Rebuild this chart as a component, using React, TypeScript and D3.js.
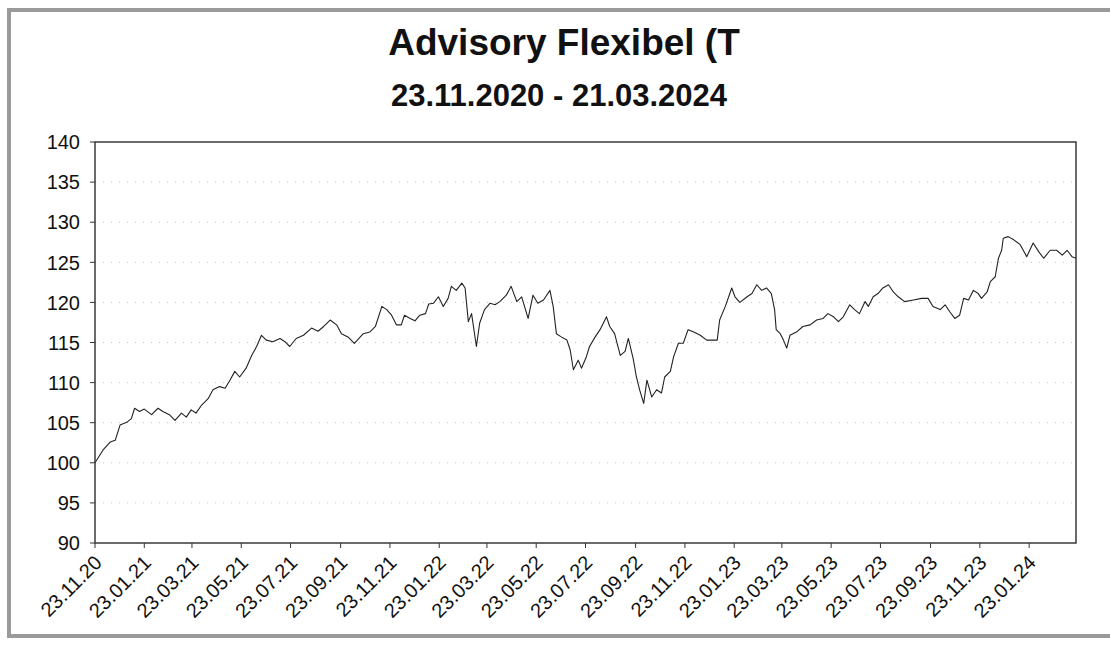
import { useMemo } from "react";
import * as d3 from "d3";

const WIDTH = 1110;
const HEIGHT = 647;
const PLOT = { left: 95, right: 1076, top: 142, bottom: 543 };
const FONT = "Arial, 'Liberation Sans', sans-serif";

const TITLE = "Advisory Flexibel (T";
const SUBTITLE = "23.11.2020 - 21.03.2024";

const START_DATE = "2020-11-23";
const END_DATE = "2024-03-21";

const Y_TICKS = [90, 95, 100, 105, 110, 115, 120, 125, 130, 135, 140];

const X_TICK_LABELS = [
  "23.11.20", "23.01.21", "23.03.21", "23.05.21", "23.07.21", "23.09.21",
  "23.11.21", "23.01.22", "23.03.22", "23.05.22", "23.07.22", "23.09.22",
  "23.11.22", "23.01.23", "23.03.23", "23.05.23", "23.07.23", "23.09.23",
  "23.11.23", "23.01.24",
];

// roughly every week
const DATES = [
  "2020-11-23", "2020-12-03", "2020-12-12", "2020-12-18", "2020-12-24", "2021-01-02",
  "2021-01-07", "2021-01-11", "2021-01-17", "2021-01-23", "2021-02-01", "2021-02-09",
  "2021-02-15", "2021-02-23", "2021-03-02", "2021-03-10", "2021-03-16", "2021-03-22",
  "2021-03-28", "2021-04-04", "2021-04-12", "2021-04-18", "2021-04-26", "2021-05-03",
  "2021-05-09", "2021-05-15", "2021-05-21", "2021-05-29", "2021-06-05", "2021-06-11",
  "2021-06-17", "2021-06-23", "2021-07-01", "2021-07-10", "2021-07-16", "2021-07-22",
  "2021-07-30", "2021-08-08", "2021-08-18", "2021-08-26", "2021-09-02", "2021-09-10",
  "2021-09-18", "2021-09-24", "2021-10-02", "2021-10-10", "2021-10-21", "2021-10-29",
  "2021-11-05", "2021-11-13", "2021-11-19", "2021-11-25", "2021-12-01", "2021-12-07",
  "2021-12-11", "2021-12-18", "2021-12-24", "2021-12-30", "2022-01-06", "2022-01-10",
  "2022-01-16", "2022-01-22", "2022-01-28", "2022-02-03", "2022-02-07", "2022-02-13",
  "2022-02-20", "2022-02-24", "2022-02-28", "2022-03-04", "2022-03-10", "2022-03-14",
  "2022-03-20", "2022-03-27", "2022-04-02", "2022-04-08", "2022-04-16", "2022-04-22",
  "2022-04-29", "2022-05-05", "2022-05-13", "2022-05-19", "2022-05-25", "2022-06-01",
  "2022-06-09", "2022-06-13", "2022-06-17", "2022-06-23", "2022-06-30", "2022-07-04",
  "2022-07-08", "2022-07-14", "2022-07-18", "2022-07-24", "2022-07-28", "2022-08-04",
  "2022-08-10", "2022-08-18", "2022-08-22", "2022-08-28", "2022-09-04", "2022-09-10",
  "2022-09-14", "2022-09-20", "2022-09-24", "2022-09-28", "2022-10-03", "2022-10-07",
  "2022-10-13", "2022-10-19", "2022-10-25", "2022-10-29", "2022-11-05", "2022-11-09",
  "2022-11-15", "2022-11-21", "2022-11-27", "2022-12-04", "2022-12-12", "2022-12-20",
  "2023-01-02", "2023-01-05", "2023-01-12", "2023-01-20", "2023-01-24", "2023-01-30",
  "2023-02-08", "2023-02-14", "2023-02-20", "2023-02-26", "2023-03-04", "2023-03-10",
  "2023-03-14", "2023-03-16", "2023-03-21", "2023-03-25", "2023-03-29", "2023-04-02",
  "2023-04-10", "2023-04-18", "2023-04-27", "2023-05-05", "2023-05-13", "2023-05-19",
  "2023-05-26", "2023-06-01", "2023-06-07", "2023-06-15", "2023-06-21", "2023-06-27",
  "2023-07-04", "2023-07-08", "2023-07-14", "2023-07-20", "2023-07-26", "2023-08-02",
  "2023-08-08", "2023-08-14", "2023-08-22", "2023-09-02", "2023-09-12", "2023-09-20",
  "2023-09-26", "2023-10-05", "2023-10-11", "2023-10-17", "2023-10-23", "2023-10-29",
  "2023-11-03", "2023-11-09", "2023-11-15", "2023-11-21", "2023-11-25", "2023-12-02",
  "2023-12-06", "2023-12-12", "2023-12-16", "2023-12-20", "2023-12-22", "2023-12-28",
  "2024-01-04", "2024-01-12", "2024-01-20", "2024-01-28", "2024-02-04", "2024-02-10",
  "2024-02-18", "2024-02-26", "2024-03-04", "2024-03-10", "2024-03-16", "2024-03-21",
];

const VALUES = [
  100.0, 101.6, 102.6, 102.8, 104.7, 105.1,
  105.5, 106.8, 106.4, 106.7, 106.0, 106.8,
  106.4, 106.0, 105.3, 106.2, 105.7, 106.6,
  106.2, 107.2, 108.0, 109.1, 109.5, 109.3,
  110.3, 111.4, 110.7, 111.8, 113.4, 114.5,
  115.9, 115.3, 115.1, 115.5, 115.1, 114.5,
  115.5, 115.9, 116.8, 116.4, 117.0, 117.8,
  117.2, 116.1, 115.7, 114.9, 116.1, 116.3,
  117.0, 119.5, 119.1, 118.4, 117.2, 117.2,
  118.4, 118.0, 117.7, 118.4, 118.6, 119.8,
  119.9, 120.7, 119.5, 120.5, 122.0, 121.5,
  122.4, 121.8, 117.6, 118.6, 114.5, 117.4,
  119.1, 119.9, 119.7, 120.1, 120.9, 122.0,
  120.1, 120.7, 118.0, 120.9, 119.9, 120.3,
  121.5, 119.5, 116.1, 115.7, 115.3, 114.1,
  111.6, 112.8, 111.8, 113.2, 114.5, 115.7,
  116.6, 118.2, 117.0, 116.1, 113.4, 113.9,
  115.5, 113.0, 110.7, 109.1, 107.4, 110.3,
  108.2, 109.1, 108.7, 110.7, 111.4, 113.2,
  114.9, 114.9, 116.6, 116.3, 115.9, 115.3,
  115.3, 117.8, 119.5, 121.8, 120.7, 120.0,
  120.7, 121.1, 122.2, 121.5, 121.8, 121.1,
  119.1, 116.6, 116.1, 115.3, 114.3, 115.9,
  116.3, 117.0, 117.2, 117.8, 118.0, 118.6,
  118.2, 117.6, 118.2, 119.7, 119.1, 118.6,
  120.1, 119.5, 120.7, 121.1, 121.8, 122.2,
  121.3, 120.7, 120.1, 120.3, 120.5, 120.5,
  119.5, 119.1, 119.7, 118.8, 118.0, 118.4,
  120.5, 120.3, 121.5, 121.1, 120.5, 121.3,
  122.6, 123.2, 125.5, 126.5, 128.0, 128.2,
  127.8, 127.2, 125.7, 127.4, 126.3, 125.5,
  126.5, 126.5, 125.9, 126.5, 125.7, 125.5,
];

type Point = { date: Date; value: number };

const parseIso = d3.timeParse("%Y-%m-%d");
const parseTick = d3.timeParse("%d.%m.%y");

export default function App() {
  const data: Point[] = useMemo(
    () => DATES.map((d, i) => ({ date: parseIso(d) as Date, value: VALUES[i] })),
    []
  );

  const xScale = d3
    .scaleTime()
    .domain([parseIso(START_DATE) as Date, parseIso(END_DATE) as Date])
    .range([PLOT.left, PLOT.right]);

  const yScale = d3
    .scaleLinear()
    .domain([90, 140])
    .range([PLOT.bottom, PLOT.top]);

  const linePath = d3
    .line<Point>()
    .x((d) => xScale(d.date))
    .y((d) => yScale(d.value))(data);

  return (
    <svg
      width={WIDTH}
      height={HEIGHT}
      style={{ position: "absolute", left: 0, top: 0, background: "#fff" }}
      fontFamily={FONT}
    >
      {/* outer frame */}
      <rect x={9} y={10} width={WIDTH + 20} height={626} fill="#fff" stroke="#9a9a9a" strokeWidth={4} />

      <text x={564} y={55} textAnchor="middle" fontSize={37} fontWeight="bold" fill="#111">
        {TITLE}
      </text>
      <text x={559} y={106} textAnchor="middle" fontSize={31} fontWeight="bold" fill="#111">
        {SUBTITLE}
      </text>

      {/* dotted gridlines */}
      {Y_TICKS.filter((t) => t > 90 && t < 140).map((t) => (
        <line
          key={"g" + t}
          x1={PLOT.left}
          x2={PLOT.right}
          y1={yScale(t)}
          y2={yScale(t)}
          stroke="#c4c4c4"
          strokeWidth={1}
          strokeDasharray="1 7"
        />
      ))}

      {/* y axis ticks + labels */}
      {Y_TICKS.map((t) => (
        <g key={"y" + t}>
          <line x1={PLOT.left - 5} x2={PLOT.left} y1={yScale(t)} y2={yScale(t)} stroke="#333" />
          <text x={80} y={yScale(t)} dy="0.36em" textAnchor="end" fontSize={20} fill="#111">
            {t}
          </text>
        </g>
      ))}

      {/* x axis ticks + rotated labels */}
      {X_TICK_LABELS.map((lab) => {
        const x = xScale(parseTick(lab) as Date);
        return (
          <g key={"x" + lab}>
            <line x1={x} x2={x} y1={PLOT.bottom} y2={PLOT.bottom + 5} stroke="#333" />
            <text
              transform={`translate(${x + 8},${PLOT.bottom + 21}) rotate(-45)`}
              textAnchor="end"
              fontSize={20}
              fill="#111"
            >
              {lab}
            </text>
          </g>
        );
      })}

      <path d={linePath ?? ""} fill="none" stroke="#222" strokeWidth={1.1} strokeLinejoin="round" />

      {/* plot border */}
      <rect
        x={PLOT.left}
        y={PLOT.top}
        width={PLOT.right - PLOT.left}
        height={PLOT.bottom - PLOT.top}
        fill="none"
        stroke="#3a3a3a"
        strokeWidth={1.5}
      />
    </svg>
  );
}
